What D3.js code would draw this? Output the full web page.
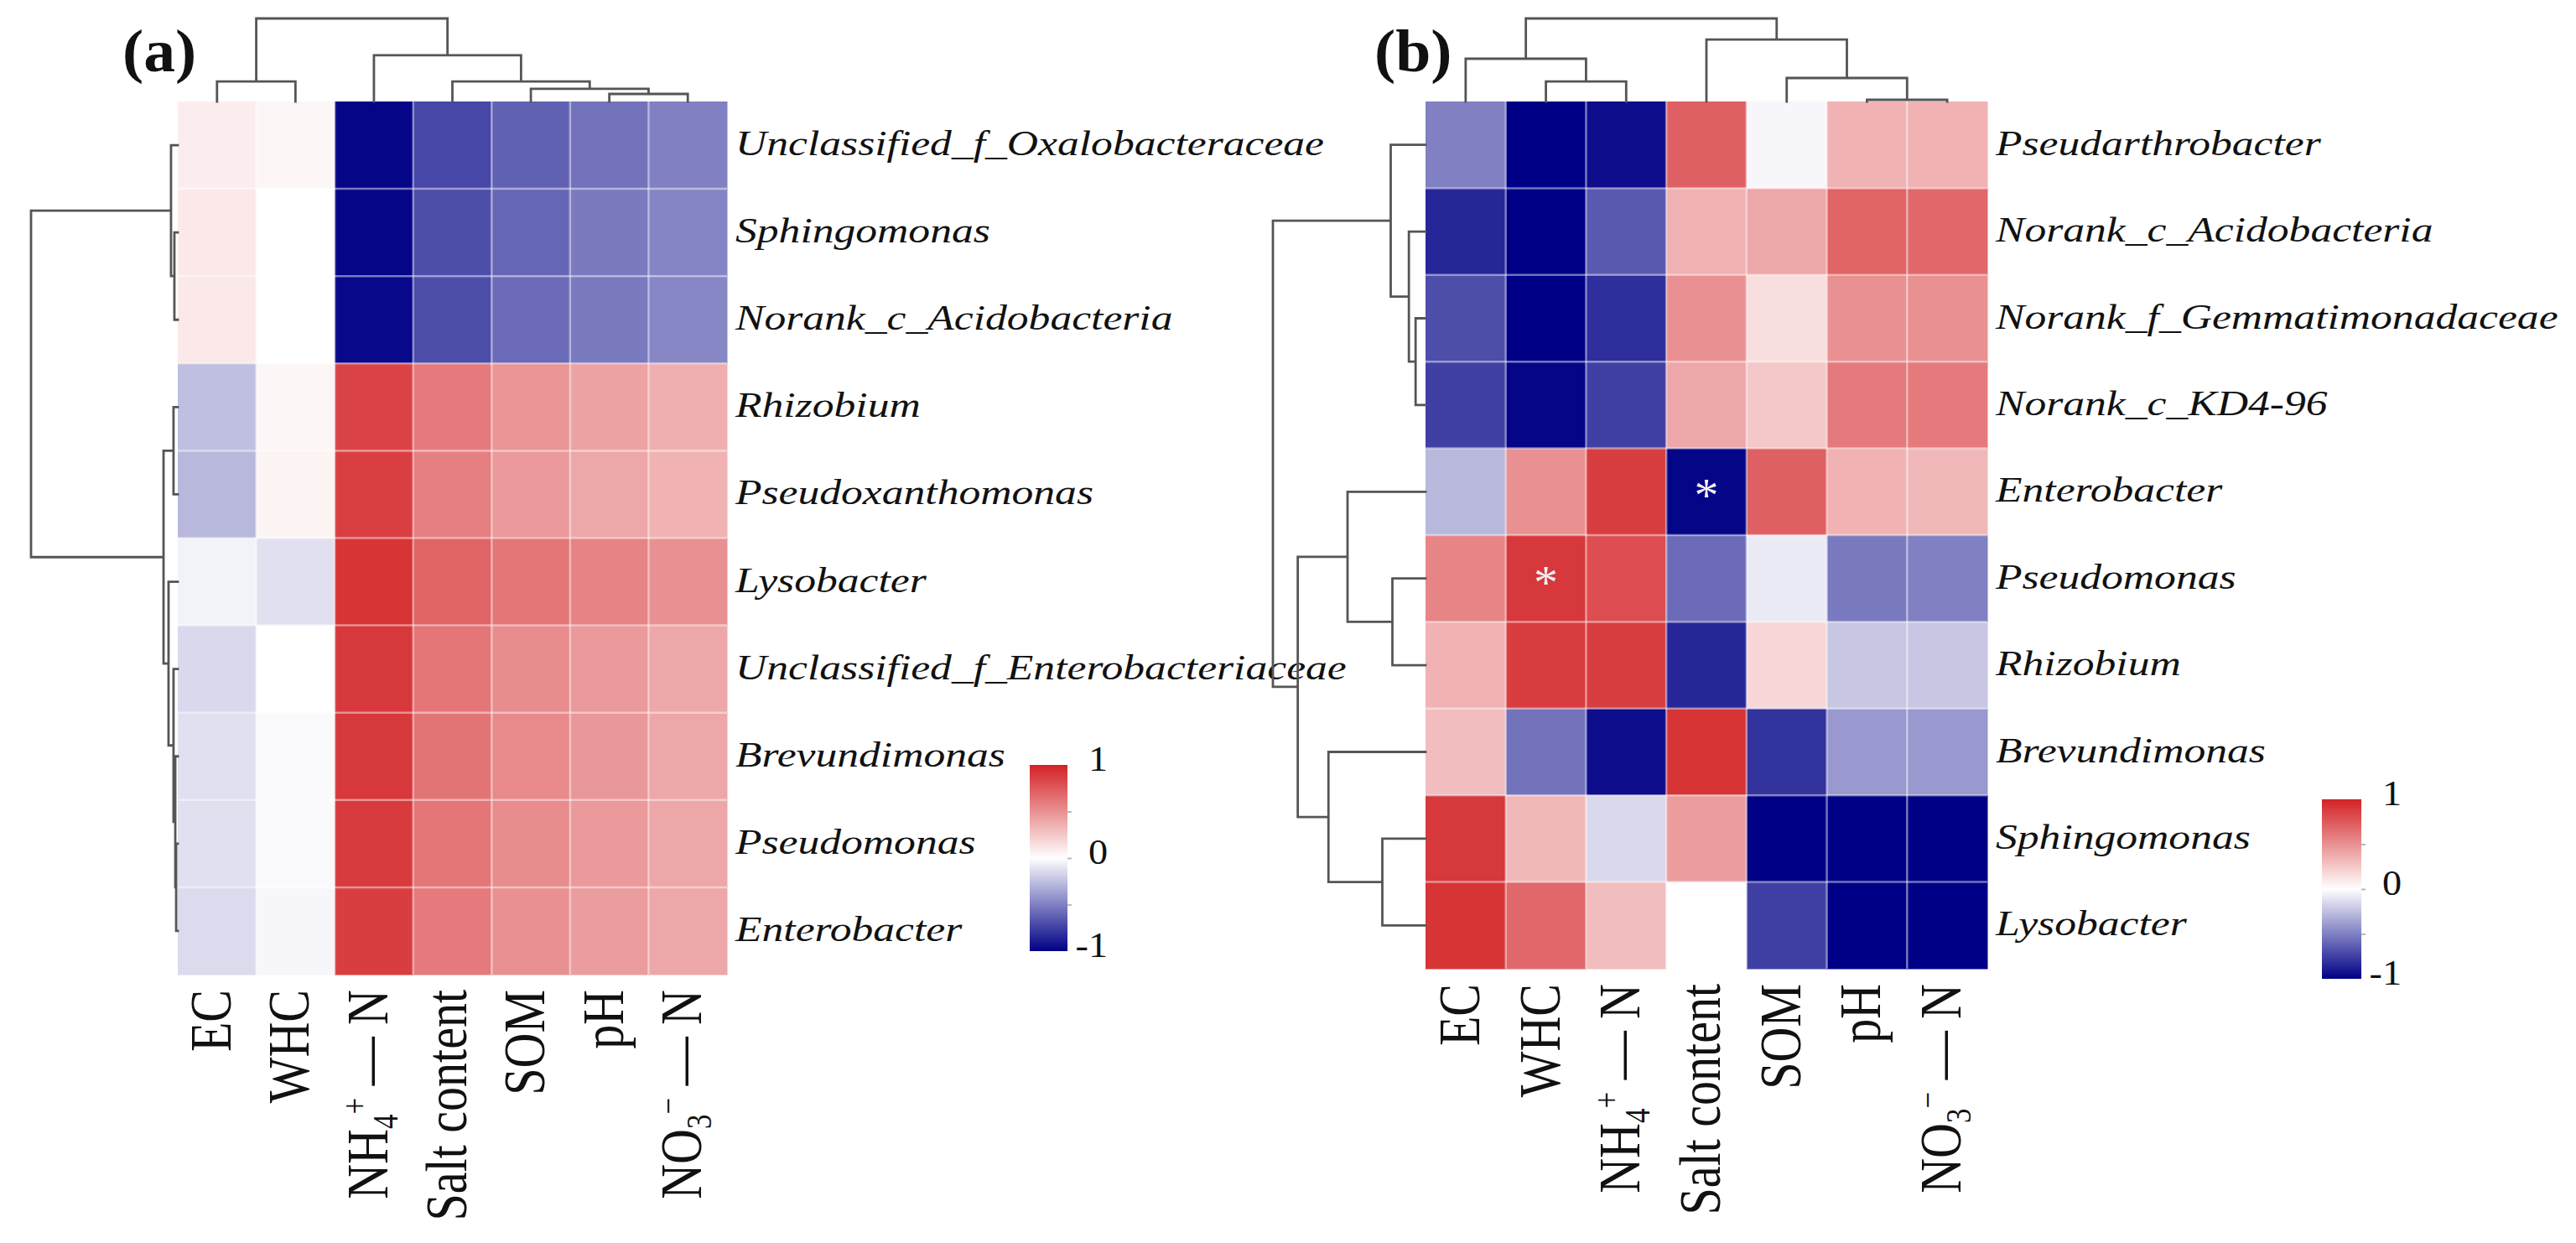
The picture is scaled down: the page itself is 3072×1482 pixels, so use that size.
<!DOCTYPE html>
<html>
<head>
<meta charset="utf-8">
<script src="https://cdn.jsdelivr.net/npm/d3@7"></script>
<style>
  body { margin: 0; background: #fff; }
  svg { display: block; }
  text { font-family: "Liberation Serif", "Times New Roman", serif; fill: #111; white-space: pre; }
</style>
</head>
<body>
<script>
// soil variables (same order in both panels)
const envVars = ["EC", "WHC", "NH4+ — N", "Salt content", "SOM", "pH", "NO3- — N"];

// panel (a)
const generaA = [
  "Unclassified_f_Oxalobacteraceae", "Sphingomonas", "Norank_c_Acidobacteria",
  "Rhizobium", "Pseudoxanthomonas", "Lysobacter", "Unclassified_f_Enterobacteriaceae",
  "Brevundimonas", "Pseudomonas", "Enterobacter"
];
const valuesA = [
  [0.08, 0.04, -0.98, -0.72, -0.62, -0.55, -0.50],
  [0.10, 0.00, -0.98, -0.70, -0.60, -0.52, -0.48],
  [0.10, 0.00, -0.97, -0.70, -0.58, -0.52, -0.47],
  [-0.25, 0.04, 0.85, 0.60, 0.48, 0.42, 0.36],
  [-0.28, 0.05, 0.87, 0.58, 0.46, 0.40, 0.35],
  [-0.05, -0.12, 0.92, 0.70, 0.62, 0.56, 0.50],
  [-0.15, 0.00, 0.90, 0.62, 0.52, 0.46, 0.40],
  [-0.12, -0.02, 0.90, 0.63, 0.53, 0.47, 0.40],
  [-0.12, -0.02, 0.89, 0.62, 0.52, 0.46, 0.40],
  [-0.14, -0.03, 0.88, 0.60, 0.50, 0.45, 0.40]
];
// trees: [height, left, right], a number is a leaf index
const rowTreeA = [1.0, [0.046, 0, [0.023, 1, 2]],
  [0.097, [0.029, 3, 4], [0.063, 5, [0.029, 6, [0.017, 7, [0.011, 8, 9]]]]]];
const colTreeA = [1.0, [0.242, 0, 1], [0.556, 2, [0.242, 3, [0.152, 4, [0.091, 5, 6]]]]];

// panel (b)
const generaB = [
  "Pseudarthrobacter", "Norank_c_Acidobacteria", "Norank_f_Gemmatimonadaceae",
  "Norank_c_KD4-96", "Enterobacter", "Pseudomonas", "Rhizobium",
  "Brevundimonas", "Sphingomonas", "Lysobacter"
];
const valuesB = [
  [-0.50, -1.00, -0.95, 0.72, -0.03, 0.35, 0.35],
  [-0.85, -1.00, -0.65, 0.35, 0.40, 0.70, 0.68],
  [-0.70, -1.00, -0.82, 0.50, 0.15, 0.50, 0.50],
  [-0.75, -0.98, -0.75, 0.40, 0.25, 0.60, 0.60],
  [-0.28, 0.50, 0.88, -0.98, 0.72, 0.35, 0.32],
  [0.55, 0.90, 0.80, -0.58, -0.08, -0.52, -0.50],
  [0.35, 0.88, 0.88, -0.85, 0.18, -0.22, -0.22],
  [0.30, -0.55, -0.95, 0.92, -0.80, -0.40, -0.40],
  [0.90, 0.32, -0.15, 0.45, -1.00, -1.00, -1.00],
  [0.92, 0.68, 0.30, 0.00, -0.75, -1.00, -1.00]
];
const rowTreeB = [1.0, [0.228, 0, [0.109, 1, [0.065, 2, 3]]],
  [0.837, [0.511, 4, [0.217, 5, 6]], [0.636, 7, [0.283, 8, 9]]]];
const colTreeB = [1.0, [0.515, 0, [0.242, 1, 2]], [0.747, 3, [0.283, 4, [0.02, 5, 6]]]];
const starsB = [[4, 3], [5, 1]]; // [row, col]

const legendTicks = [1, 0, -1];

const TEXT_SX = 1.2;

const colour = d3.scaleLinear().
domain([-1, 0, 1]).
range(["#000086", "#ffffff", "#d32225"]);

const svg = d3.select("body").
append("svg").
attr("width", 3072).
attr("height", 1482);

const grad = svg.append("defs").
append("linearGradient").
attr("id", "cbar").
attr("x1", 0).attr("y1", 0).attr("x2", 0).attr("y2", 1);
d3.range(1, -1.01, -0.1).forEach((v, i, arr) => {
  grad.append("stop").
  attr("offset", i / (arr.length - 1)).
  attr("stop-color", colour(v));
});

const drawTree = (g, tree, posScale, hScale, orient) => {
  const root = d3.hierarchy(tree, d => Array.isArray(d) ? d.slice(1) : null);
  root.eachAfter(n => {
    if (!n.children) {
      n.pos = posScale(n.data) + posScale.bandwidth() / 2;
      n.h = 0;
    } else {
      n.pos = d3.mean(n.children, c => c.pos);
      n.h = n.data[0];
    }
  });
  const path = d3.path();
  const seg = (p1, h1, p2, h2) => {
    if (orient === "row") {
      path.moveTo(hScale(h1), p1);
      path.lineTo(hScale(h2), p2);
    } else {
      path.moveTo(p1, hScale(h1));
      path.lineTo(p2, hScale(h2));
    }
  };
  root.each(n => {
    if (!n.children) return;
    seg(n.children[0].pos, n.h, n.children[1].pos, n.h);
    n.children.forEach(c => seg(c.pos, n.h, c.pos, c.h));
  });
  g.append("path").
  attr("d", path.toString()).
  attr("fill", "none").
  attr("stroke", "#555").
  attr("stroke-width", 2.8).
  attr("stroke-linecap", "square");
};

const addVarLabel = (sel, label) => {
  const m = label.match(/^([A-Z]+)(\d)([+-])(.*)$/);
  if (!m) {
    sel.text(label);
    return;
  }
  sel.append("tspan").text(m[1]);
  sel.append("tspan").attr("font-size", 35).attr("dy", 10).text(m[2]);
  sel.append("tspan").attr("font-size", 35).attr("dy", -31).text(m[3] === "-" ? "\u2212" : "+");
  sel.append("tspan").attr("dy", 21).text(m[4]);
};

const drawPanel = p => {
  const g = svg.append("g");
  const x = d3.scaleBand().domain(d3.range(envVars.length)).range([p.x0, p.x1]);
  const y = d3.scaleBand().domain(d3.range(p.rows.length)).range([p.y0, p.y1]);

  // cells
  g.selectAll("rect.cell").
  data(p.values.flatMap((row, i) => row.map((v, j) => ({ i, j, v })))).
  enter().
  append("rect").
  attr("class", "cell").
  attr("x", d => x(d.j)).
  attr("y", d => y(d.i)).
  attr("width", x.bandwidth() + 0.5).
  attr("height", y.bandwidth() + 0.5).
  attr("fill", d => colour(d.v));

  // light cell borders
  g.selectAll("line.vsep").
  data(d3.range(1, envVars.length)).
  enter().
  append("line").
  attr("x1", j => x(j)).attr("x2", j => x(j)).
  attr("y1", p.y0).attr("y2", p.y1).
  attr("stroke", "#fff").attr("stroke-opacity", 0.45).attr("stroke-width", 2.5);
  g.selectAll("line.hsep").
  data(d3.range(1, p.rows.length)).
  enter().
  append("line").
  attr("y1", i => y(i)).attr("y2", i => y(i)).
  attr("x1", p.x0).attr("x2", p.x1).
  attr("stroke", "#fff").attr("stroke-opacity", 0.45).attr("stroke-width", 2.5);

  // significance marks
  g.selectAll("text.star").
  data(p.stars).
  enter().
  append("text").
  attr("x", d => x(d[1]) + x.bandwidth() / 2).
  attr("y", d => y(d[0]) + y.bandwidth() / 2 + 24).
  attr("text-anchor", "middle").
  attr("font-size", 58).
  style("fill", "#f4f0f0").
  text("*");

  // dendrograms
  drawTree(g, p.rowTree, y, d3.scaleLinear().domain([0, 1]).range([p.x0, p.rowRoot]), "row");
  drawTree(g, p.colTree, x, d3.scaleLinear().domain([0, 1]).range([p.y0, p.colRoot]), "col");

  // row labels
  g.selectAll("text.row").
  data(p.rows).
  enter().
  append("text").
  attr("transform", (d, i) => `translate(${p.x1 + 10},${y(i) + y.bandwidth() / 2 + 12}) scale(${TEXT_SX},1)`).
  attr("font-size", 43).
  attr("font-style", "italic").
  text(d => d);

  // column labels
  g.selectAll("text.col").
  data(envVars).
  enter().
  append("text").
  attr("transform", (d, j) => `translate(${x(j) + x.bandwidth() / 2 + 16},${p.y1 + 18}) scale(${TEXT_SX},1) rotate(-90)`).
  attr("text-anchor", "end").
  attr("font-size", 58).
  each(function (d) {
    addVarLabel(d3.select(this), d);
  });

  // panel tag
  g.append("text").
  attr("transform", `translate(${p.tagX},85) scale(1.05,1)`).
  attr("font-size", 72).
  attr("font-weight", "bold").
  text(p.tag);

  // colour legend
  const ly = d3.scaleLinear().domain([-1, 1]).range([p.leg.y1, p.leg.y0]);
  g.append("rect").
  attr("x", p.leg.x).
  attr("y", p.leg.y0).
  attr("width", p.leg.w).
  attr("height", p.leg.y1 - p.leg.y0).
  attr("fill", "url(#cbar)");
  g.append("g").
  attr("transform", `translate(${p.leg.x + p.leg.w},0)`).
  call(d3.axisRight(ly).tickValues([-0.5, 0, 0.5]).tickSize(5).tickFormat("")).
  call(a => a.select(".domain").remove()).
  call(a => a.selectAll("line").attr("stroke", "#bbb").attr("stroke-width", 2));
  g.selectAll("text.leg").
  data(legendTicks).
  enter().
  append("text").
  attr("transform", d => `translate(${p.leg.x + p.leg.w + 48},${ly(d) - 8 + 15}) scale(1.1,1)`).
  attr("text-anchor", "end").
  attr("font-size", 42).
  text(d => d === -1 ? "-1" : d);
};

drawPanel({
  rows: generaA, values: valuesA, rowTree: rowTreeA, colTree: colTreeA, stars: [],
  x0: 212, x1: 867, y0: 121, y1: 1162, rowRoot: 37, colRoot: 22,
  tag: "(a)", tagX: 146,
  leg: { x: 1228, w: 45, y0: 912, y1: 1134 }
});
drawPanel({
  rows: generaB, values: valuesB, rowTree: rowTreeB, colTree: colTreeB, stars: starsB,
  x0: 1700, x1: 2370, y0: 121, y1: 1155, rowRoot: 1518, colRoot: 22,
  tag: "(b)", tagX: 1639,
  leg: { x: 2769, w: 47, y0: 953, y1: 1167 }
});
</script>
</body>
</html>
